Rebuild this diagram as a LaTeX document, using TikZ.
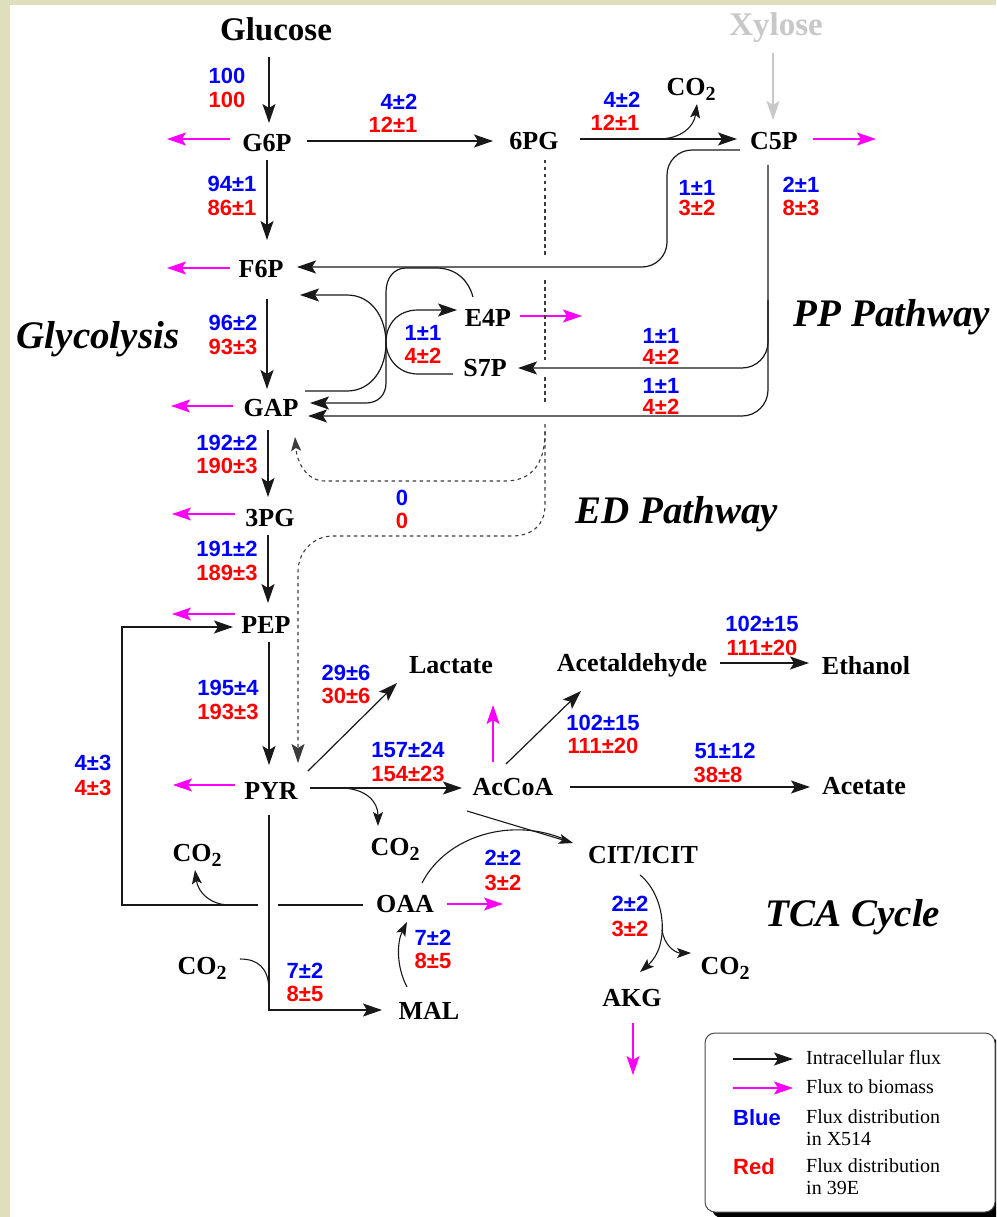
\documentclass[tikz,border=0pt]{standalone}
\usepackage{fontspec}
\setmainfont{Liberation Serif}
\newfontfamily\numfam{Liberation Sans}
\usetikzlibrary{arrows.meta}
\definecolor{bgbeige}{RGB}{223,222,189}
\definecolor{fluxblue}{RGB}{0,0,255}
\definecolor{fluxred}{RGB}{255,0,0}
\definecolor{biomag}{RGB}{255,0,255}
\definecolor{linec}{RGB}{25,25,25}
\definecolor{xylgray}{RGB}{200,200,200}
\newcommand\metf{\fontsize{26}{26}\selectfont\bfseries}
\newcommand\bigf{\fontsize{33}{33}\selectfont\bfseries}
\newcommand\numf{\numfam\fontsize{22}{22}\selectfont\bfseries}
\newcommand\itf{\fontsize{39}{39}\selectfont\bfseries\itshape}
\newcommand\legf{\fontsize{20}{22}\selectfont}
\newcommand\cotwo{CO\raisebox{-5pt}{\fontsize{20}{20}\selectfont 2}}
\begin{document}
\begin{tikzpicture}[x=1pt,y=-1pt,
  met/.style={font=\metf, inner sep=0pt, text height=17pt, text depth=0pt},
  big/.style={font=\bigf, inner sep=0pt, text height=22pt, text depth=0pt},
  bl/.style={font=\numf, text=fluxblue, inner sep=0pt, text height=16pt, text depth=0pt},
  rd/.style={font=\numf, text=fluxred, inner sep=0pt, text height=16pt, text depth=0pt},
  ital/.style={font=\itf, inner sep=0pt, text height=26pt, text depth=0pt},
  leg/.style={font=\legf, inner sep=0pt, anchor=west, text height=13pt, text depth=0pt},
  arr/.style={draw=linec, line width=1.2pt, -{Stealth[length=19pt,width=13pt,inset=4pt]}},
  arrs/.style={draw=linec, line width=1.1pt, -{Stealth[length=14pt,width=10pt,inset=3pt]}},
  bio/.style={draw=biomag, line width=1.2pt, -{Stealth[length=19pt,width=13pt,inset=4pt,fill=biomag]}},
  ln/.style={draw=linec, line width=1.2pt},
  ed/.style={draw=linec!85, line width=1.1pt, dash pattern=on 3.5pt off 3.5pt},
  xarr/.style={draw=xylgray, line width=1.2pt, -{Stealth[length=19pt,width=13pt,inset=4pt]}}
]
\useasboundingbox (0,0) rectangle (996,1217);
\clip (0,0) rectangle (996,1217);
\fill[bgbeige] (0,0) rectangle (996,1217);
\fill[white] (10,5) rectangle (996,1217);

% ---------- metabolites ----------
\node[big] (glc) at (276,30) {Glucose};
\node[big, text=xylgray] (xyl) at (776,25) {Xylose};
\node[met] (g6p) at (267,143) {G6P};
\node[met] (pg6) at (534,141) {6PG};
\node[met] (c5p) at (774,141) {C5P};
\node[met] (co2a) at (691,87) {\cotwo};
\node[met] (f6p) at (261,269) {F6P};
\node[met] (e4p) at (488,318) {E4P};
\node[met] (s7p) at (485,368) {S7P};
\node[met] (gap) at (271,408) {GAP};
\node[met] (pg3) at (270,518) {3PG};
\node[met] (pep) at (266,625) {PEP};
\node[met] (pyr) at (271,791) {PYR};
\node[met] (lac) at (451,665) {Lactate};
\node[met] (acald) at (632,663) {Acetaldehyde};
\node[met] (etoh) at (866,666) {Ethanol};
\node[met] (accoa) at (513,787) {AcCoA};
\node[met] (ace) at (864,786) {Acetate};
\node[met] (co2b) at (395,847) {\cotwo};
\node[met] (cit) at (643,855) {CIT/ICIT};
\node[met] (oaa) at (405,904) {OAA};
\node[met] (co2c) at (197,853) {\cotwo};
\node[met] (co2d) at (202,966) {\cotwo};
\node[met] (mal) at (429,1011) {MAL};
\node[met] (akg) at (632,998) {AKG};
\node[met] (co2e) at (725,966) {\cotwo};

% ---------- pathway labels ----------
\node[ital] (lglyc) at (98,335) {Glycolysis};
\node[ital] (lpp) at (892,313) {PP Pathway};
\node[ital] (led) at (677,510) {ED Pathway};
\node[ital] (ltca) at (853,913) {TCA Cycle};

% ---------- flux values ----------
\node[bl] (v1b) at (227,76) {100};   \node[rd] (v1r) at (227,100) {100};
\node[bl] (v2b) at (399,102) {4±2};  \node[rd] (v2r) at (393,125) {12±1};
\node[bl] (v3b) at (622,100) {4±2};  \node[rd] (v3r) at (615,123) {12±1};
\node[bl] (v4b) at (232,183) {94±1}; \node[rd] (v4r) at (232,207) {86±1};
\node[bl] (v5b) at (697,187) {1±1};  \node[rd] (v5r) at (697,207) {3±2};
\node[bl] (v6b) at (801,185) {2±1};  \node[rd] (v6r) at (801,207) {8±3};
\node[bl] (v7b) at (233,322) {96±2}; \node[rd] (v7r) at (233,346) {93±3};
\node[bl] (v8b) at (423,332) {1±1};  \node[rd] (v8r) at (423,355) {4±2};
\node[bl] (v9b) at (661,335) {1±1};  \node[rd] (v9r) at (661,356) {4±2};
\node[bl] (v10b) at (661,385) {1±1}; \node[rd] (v10r) at (661,406) {4±2};
\node[bl] (v11b) at (227,442) {192±2}; \node[rd] (v11r) at (227,465) {190±3};
\node[bl] (v12b) at (402,497) {0};   \node[rd] (v12r) at (402,520) {0};
\node[bl] (v13b) at (227,548) {191±2}; \node[rd] (v13r) at (227,572) {189±3};
\node[bl] (v14b) at (762,623) {102±15}; \node[rd] (v14r) at (762,647) {111±20};
\node[bl] (v15b) at (346,672) {29±6}; \node[rd] (v15r) at (346,695) {30±6};
\node[bl] (v16b) at (228,687) {195±4}; \node[rd] (v16r) at (228,711) {193±3};
\node[bl] (v17b) at (603,722) {102±15}; \node[rd] (v17r) at (603,745) {111±20};
\node[bl] (v18b) at (408,749) {157±24}; \node[rd] (v18r) at (408,773) {154±23};
\node[bl] (v19b) at (725,750) {51±12}; \node[rd] (v19r) at (718,774) {38±8};
\node[bl] (v20b) at (93,762) {4±3};  \node[rd] (v20r) at (93,787) {4±3};
\node[bl] (v21b) at (503,857) {2±2}; \node[rd] (v21r) at (503,882) {3±2};
\node[bl] (v22b) at (630,903) {2±2}; \node[rd] (v22r) at (630,928) {3±2};
\node[bl] (v23b) at (433,937) {7±2}; \node[rd] (v23r) at (433,960) {8±5};
\node[bl] (v24b) at (305,970) {7±2}; \node[rd] (v24r) at (305,993) {8±5};

% ---------- glycolysis ----------
\draw[arr] (269,57) -- (269,123);
\draw[xarr] (773,53) -- (773,120);
\draw[arr] (267,160) -- (267,240);
\draw[arr] (267,299) -- (267,389);
\draw[arr] (268,430) -- (268,497);
\draw[arr] (268,535) -- (268,603);
\draw[arr] (269,642) -- (269,765);

% biomass arrows
\draw[bio] (230,139) -- (167,139);
\draw[bio] (230,268) -- (167,268);
\draw[bio] (233,406) -- (171,406);
\draw[bio] (235,514) -- (172,514);
\draw[bio] (235,614) -- (172,614);
\draw[bio] (235,785) -- (173,785);
\draw[bio] (813,139) -- (876,139);
\draw[bio] (520,316) -- (582,316);
\draw[bio] (493,762) -- (493,705);
\draw[bio] (447,904) -- (503,904);
\draw[bio] (633,1023) -- (633,1075);

% ---------- PP pathway ----------
\draw[arr] (307,141) -- (493,141);
\draw[arr] (580,139) -- (737,139);
\draw[arrs] (658,139) .. controls (682,139) and (694,126) .. (697,104);
\draw[arr, rounded corners=25pt] (740,150) -- (667,150) -- (667,267) -- (297,267);
\draw[arr, rounded corners=26pt] (768,165) -- (768,416) -- (308,416);
\draw[arr, rounded corners=26pt] (768,300) -- (768,368) -- (518,368);
% transketolase / transaldolase
\draw[arr] (305,391) -- (347,391) .. controls (372,391) and (386,368) .. (386,343)
   .. controls (386,318) and (372,295) .. (347,295) -- (300,295);
\draw[arr] (473,297) .. controls (468,279) and (455,268) .. (436,268) -- (406,268)
   .. controls (394,268) and (386,278) .. (386,292) -- (386,383)
   .. controls (386,395) and (378,403) .. (366,403) -- (310,403);
\draw[arr] (453,374) -- (418,374) .. controls (398,374) and (386,358) .. (386,342)
   .. controls (386,324) and (398,310) .. (418,310) -- (457,310);

% ---------- ED pathway ----------
\draw[ed] (545,160) -- (545,255);
\draw[ed] (545,280) -- (545,360);
\draw[ed] (545,377) -- (545,404);
\draw[ed, -{Stealth[length=19pt,width=13pt,inset=4pt]}] (545,424) -- (545,505)
   .. controls (545,525) and (532,536) .. (512,536) -- (333,536)
   .. controls (313,536) and (298,552) .. (298,572) -- (298,763);
\draw[ed, -{Stealth[length=14pt,width=10pt,inset=3pt]}] (545,432)
   .. controls (545,466) and (530,481) .. (505,481) -- (325,481)
   .. controls (306,481) and (297,462) .. (295,437);

% ---------- pyruvate node ----------
\draw[arr] (308,771) -- (397,683);
\draw[arr] (310,788) -- (462,788);
\draw[arrs] (340,788) .. controls (365,788) and (378,801) .. (378,826);
\draw[ln] (363,905) -- (278,905);
\draw[arr] (258,905) -- (122,905) -- (122,627) -- (233,627);
\draw[arrs] (230,905) .. controls (210,905) and (198,892) .. (195,870);
\draw[arr] (269,815) -- (269,1010) -- (382,1010);
\draw[ln, line width=1.1pt] (240,959) .. controls (258,959) and (268,968) .. (269,988);

% ---------- fermentation ----------
\draw[arr] (506,764) -- (581,691);
\draw[arr] (720,663) -- (809,663);
\draw[arr] (570,787) -- (810,787);

% ---------- TCA ----------
\draw[arrs] (467,811) -- (573,843);
\draw[ln, line width=1.1pt] (422,883) .. controls (446,836) and (512,816) .. (566,840);
\draw[arrs] (407,987) .. controls (396,966) and (397,942) .. (407,922);
\draw[arrs] (640,875) .. controls (666,896) and (670,946) .. (640,972);
\draw[arrs] (662,930) .. controls (664,945) and (675,953) .. (691,953);

% ---------- legend ----------
\fill[black, rounded corners=10pt] (712,1039) rectangle (1003,1218);
\draw[fill=white, draw=linec!80, line width=1pt, rounded corners=10pt] (705,1033) rectangle (995,1212);
\draw[arr] (733,1059) -- (793,1059);
\draw[bio] (733,1088) -- (793,1088);
\node[leg] (l1) at (806,1058) {Intracellular flux};
\node[leg] (l2) at (806,1087) {Flux to biomass};
\node[font=\numf, text=fluxblue, inner sep=0pt, anchor=west, text height=16pt, text depth=0pt] (lb) at (733,1117) {Blue};
\node[leg] (l3) at (806,1117) {Flux distribution};
\node[leg] (l4) at (806,1139) {in X514};
\node[font=\numf, text=fluxred, inner sep=0pt, anchor=west, text height=16pt, text depth=0pt] (lr) at (733,1166) {Red};
\node[leg] (l5) at (806,1166) {Flux distribution};
\node[leg] (l6) at (806,1188) {in 39E};
\end{tikzpicture}
\end{document}
